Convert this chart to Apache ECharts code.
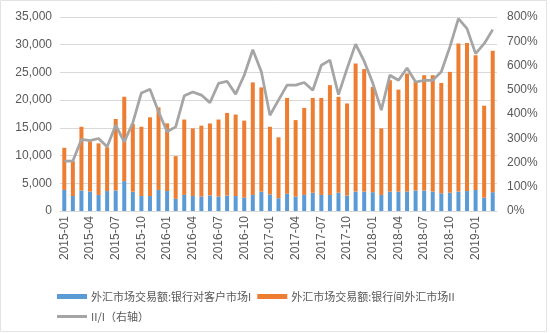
<!DOCTYPE html>
<html>
<head>
<meta charset="utf-8">
<script src="https://cdn.jsdelivr.net/npm/echarts@6/dist/echarts.min.js"></script>
<style>
  html, body { margin: 0; padding: 0; background: #fff; }
  #chart { width: 550px; height: 334px; }
</style>
</head>
<body>
<div id="chart"></div>
<script>
// Monthly categories, 2015-01 .. 2019-03
const months = [];
for (let y = 2015; y <= 2019; y++) {
  for (let m = 1; m <= 12; m++) {
    if (y === 2019 && m > 3) break;
    months.push(y + '-' + (m < 10 ? '0' + m : m));
  }
}

// 外汇市场交易额:银行对客户市场 (I)
const clientMarket = [
  3800, 2700, 3700, 3500, 2900, 3600, 3700, 5400, 3500, 2700, 2700, 3800,
  3600, 2200, 2900, 2700, 2600, 2800, 2600, 2800, 2700, 2400, 2900, 3500,
  3000, 2300, 3100, 2600, 2900, 3300, 2900, 2900, 3300, 2800, 3500, 3500,
  3400, 2900, 3500, 3500, 3500, 3700, 3700, 3500, 3200, 3300, 3500, 3600,
  3800, 2400, 3400
];

// 外汇市场交易额:银行间外汇市场 (II)
const interbankMarket = [
  7600, 6300, 11500, 9000, 9300, 7900, 12900, 15200, 12200, 12500, 14200, 14900,
  12200, 7700, 13600, 12200, 12800, 13000, 13900, 14900, 14700, 13900, 20300, 18800,
  12200, 11000, 17300, 13800, 15700, 17100, 17500, 19800, 17300, 16600, 23100, 22100,
  19000, 12000, 20100, 18400, 21300, 19600, 20800, 21000, 19900, 21800, 26700, 26700,
  24300, 16600, 25500
];

// II/I ratio, percent (right axis)
const ratio = [
  206, 206, 295, 290, 299, 265, 354, 285, 364, 487, 502, 409,
  327, 347, 475, 491, 478, 447, 526, 535, 482, 560, 665, 574,
  395, 457, 519, 519, 530, 498, 601, 622, 480, 587, 688, 618,
  528, 416, 560, 539, 590, 532, 539, 539, 574, 677, 793, 752,
  649, 690, 748
];

const leftTicks = { min: 0, max: 35000, interval: 5000 };
const rightTicks = { min: 0, max: 800, interval: 100 };

const nameI = '外汇市场交易额:银行对客户市场I';
const nameII = '外汇市场交易额:银行间外汇市场II';
const nameRatio = 'II/I（右轴）';

const axisFont = 'Liberation Sans, Arial, sans-serif';
const cjkFont = '"Noto Sans CJK SC", sans-serif';
const labelColor = '#595959';
const gridColor = '#d9d9d9';

const chart = echarts.init(document.getElementById('chart'), null, { renderer: 'canvas' });

chart.setOption({
  animation: false,
  backgroundColor: '#ffffff',
  grid: { left: 60, right: 53, top: 17, bottom: 123 },
  graphic: [{
    type: 'rect',
    shape: { x: 0.5, y: 0.5, width: 546, height: 331 },
    style: { fill: 'none', stroke: '#e3e3e3', lineWidth: 1 },
    silent: true
  }],
  legend: [{
    left: 52, top: 286,
    itemWidth: 30, itemHeight: 5, itemGap: 6,
    icon: 'rect',
    textStyle: { fontFamily: cjkFont, fontSize: 11, color: labelColor, padding: [0, 0, 0, -1] },
    data: [nameI, nameII]
  }, {
    left: 52, top: 306,
    itemWidth: 30, itemHeight: 3,
    icon: 'rect',
    textStyle: { fontFamily: cjkFont, fontSize: 11, color: labelColor, padding: [0, 0, 0, -1] },
    data: [nameRatio]
  }],
  xAxis: {
    type: 'category',
    data: months,
    boundaryGap: true,
    axisLine: { lineStyle: { color: gridColor } },
    axisTick: { interval: 2, length: 4, lineStyle: { color: gridColor } },
    axisLabel: {
      interval: 2, rotate: 90, margin: 5,
      fontFamily: axisFont, fontSize: 12, color: labelColor
    }
  },
  yAxis: [{
    type: 'value',
    min: leftTicks.min, max: leftTicks.max, interval: leftTicks.interval,
    axisLine: { show: false },
    axisTick: { show: false },
    splitLine: { lineStyle: { color: gridColor } },
    axisLabel: {
      fontFamily: axisFont, fontSize: 12, color: labelColor, margin: 8,
      formatter: v => v.toLocaleString('en-US')
    }
  }, {
    type: 'value',
    min: rightTicks.min, max: rightTicks.max, interval: rightTicks.interval,
    axisLine: { show: false },
    axisTick: { show: false },
    splitLine: { show: false },
    axisLabel: {
      fontFamily: axisFont, fontSize: 12, color: labelColor, margin: 10,
      formatter: '{value}%'
    }
  }],
  series: [{
    name: nameI,
    type: 'bar',
    stack: 'volume',
    barWidth: 4,
    itemStyle: { color: '#5B9BD5' },
    data: clientMarket
  }, {
    name: nameII,
    type: 'bar',
    stack: 'volume',
    barWidth: 4,
    itemStyle: { color: '#ED7D31' },
    data: interbankMarket
  }, {
    name: nameRatio,
    type: 'line',
    yAxisIndex: 1,
    symbol: 'none',
    lineStyle: { color: '#A5A5A5', width: 2.75 },
    itemStyle: { color: '#A5A5A5' },
    data: ratio
  }]
});
</script>
</body>
</html>
